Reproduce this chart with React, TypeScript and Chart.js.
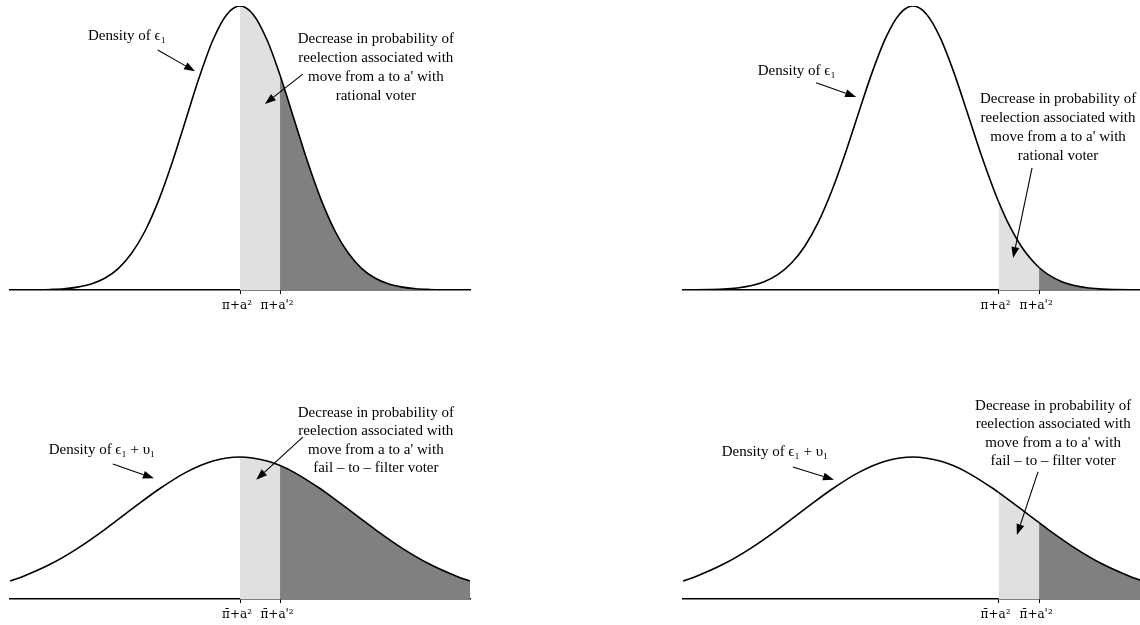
import React, { useEffect, useRef } from "react";
import { Chart, registerables } from "chart.js";

Chart.register(...registerables);

// ---- data ----
const TOP_LEFT_X = [
  -4.25, -4, -3.75, -3.5, -3.25, -3, -2.75, -2.5, -2.25, -2, -1.75, -1.5, -1.25, -1, -0.75, -0.5, -0.25,
  0, 0.25, 0.5, 0.74, 1, 1.25, 1.5, 1.75, 2, 2.25, 2.5, 2.75, 3, 3.25, 3.5, 3.75, 4, 4.25,
];
const TOP_LEFT_Y = [
  0.0, 0.0001, 0.0003, 0.0008, 0.0018, 0.0041, 0.0084, 0.0165, 0.0302, 0.052, 0.0838, 0.1269, 0.1802, 0.2402, 0.3002, 0.3521, 0.3874,
  0.4, 0.3874, 0.3521, 0.3025, 0.2402, 0.1802, 0.1269, 0.0838, 0.052, 0.0302, 0.0165, 0.0084, 0.0041, 0.0018, 0.0008, 0.0003, 0.0001, 0.0,
];
const TOP_RIGHT_X = [
  -4.25, -4, -3.75, -3.5, -3.25, -3, -2.75, -2.5, -2.25, -2, -1.75, -1.5, -1.25, -1, -0.75, -0.5, -0.25,
  0, 0.25, 0.5, 0.75, 1, 1.25, 1.5, 1.58, 1.75, 2, 2.25, 2.33, 2.5, 2.75, 3, 3.25, 3.5, 3.75, 4, 4.25,
];
const TOP_RIGHT_Y = [
  0.0001, 0.0002, 0.0006, 0.0013, 0.0029, 0.006, 0.0117, 0.0216, 0.0376, 0.0617, 0.0956, 0.1398, 0.1927, 0.2507, 0.3076, 0.3559, 0.3885,
  0.4, 0.3885, 0.3559, 0.3076, 0.2507, 0.1927, 0.1398, 0.1246, 0.0956, 0.0617, 0.0376, 0.0317, 0.0216, 0.0117, 0.006, 0.0029, 0.0013, 0.0006, 0.0002, 0.0001,
];
const BOTTOM_X = [
  -4.25, -4, -3.5, -3, -2.5, -2, -1.5, -1, -0.5, 0, 0.5, 0.74, 1, 1.5, 1.58, 2, 2.33, 2.5, 3, 3.5, 4, 4.25,
];
const BOTTOM_Y = [
  0.0253, 0.0321, 0.0492, 0.0714, 0.0978, 0.1266, 0.1546, 0.1784, 0.1944, 0.2, 0.1944, 0.1879, 0.1784, 0.1546, 0.1503, 0.1266, 0.1075, 0.0978, 0.0714, 0.0492, 0.0321, 0.0253,
];
const LEFT_THRESHOLDS = [0, 0.74];
const RIGHT_THRESHOLDS = [1.58, 2.33];
const TOP_TICK_LABELS = ["\u03C0+a\u00B2", "\u03C0+a'\u00B2"];
const BOTTOM_TICK_LABELS = ["\u03C0\u0304+a\u00B2", "\u03C0\u0304+a'\u00B2"];
const TOP_DENSITY_LABEL = "Density of \u03F5\u2081";
const BOTTOM_DENSITY_LABEL = "Density of \u03F5\u2081 + \u03C5\u2081";
const TOP_NOTE = [
  "Decrease in probability of",
  "reelection associated with",
  "move from a to a' with",
  "rational voter",
];
const BOTTOM_NOTE = [
  "Decrease in probability of",
  "reelection associated with",
  "move from a to a' with",
  "fail \u2013 to \u2013 filter voter",
];

// ---- styling / layout ----
const FONT = '"Liberation Serif", "DejaVu Serif", serif';
const TICK_FONT = '"DejaVu Serif", "Liberation Serif", serif';
const LIGHT = "#e0e0e0";
const DARK = "#808080";

type Pt = [number, number];
type PanelCfg = {
  left: number;
  top: number;
  xs: number[];
  ys: number[];
  thresholds: number[];
  tickLabels: string[];
  density: { text: string; x: number; y: number; arrow: [Pt, Pt] };
  note: { lines: string[]; x: number; y: number; lineH: number; arrow: [Pt, Pt] };
};

const PANELS: PanelCfg[] = [
  {
    left: 0,
    top: 0,
    xs: TOP_LEFT_X,
    ys: TOP_LEFT_Y,
    thresholds: LEFT_THRESHOLDS,
    tickLabels: TOP_TICK_LABELS,
    density: { text: TOP_DENSITY_LABEL, x: -2.09, y: 0.358, arrow: [[-1.52, 0.338], [-0.83, 0.308]] },
    note: { lines: TOP_NOTE, x: 2.51, y: 0.354, lineH: 19, arrow: [[1.16, 0.304], [0.46, 0.262]] },
  },
  {
    left: 673,
    top: 0,
    xs: TOP_RIGHT_X,
    ys: TOP_RIGHT_Y,
    thresholds: RIGHT_THRESHOLDS,
    tickLabels: TOP_TICK_LABELS,
    density: { text: TOP_DENSITY_LABEL, x: -2.15, y: 0.308, arrow: [[-1.79, 0.292], [-1.05, 0.272]] },
    note: { lines: TOP_NOTE, x: 2.68, y: 0.269, lineH: 19, arrow: [[2.2, 0.172], [1.85, 0.045]] },
  },
  {
    left: 0,
    top: 309,
    xs: BOTTOM_X,
    ys: BOTTOM_Y,
    thresholds: LEFT_THRESHOLDS,
    tickLabels: BOTTOM_TICK_LABELS,
    density: { text: BOTTOM_DENSITY_LABEL, x: -2.55, y: 0.21, arrow: [[-2.35, 0.19], [-1.59, 0.17]] },
    note: { lines: BOTTOM_NOTE, x: 2.51, y: 0.262, lineH: 18.3, arrow: [[1.16, 0.228], [0.3, 0.168]] },
  },
  {
    left: 673,
    top: 309,
    xs: BOTTOM_X,
    ys: BOTTOM_Y,
    thresholds: RIGHT_THRESHOLDS,
    tickLabels: BOTTOM_TICK_LABELS,
    density: { text: BOTTOM_DENSITY_LABEL, x: -2.55, y: 0.207, arrow: [[-2.22, 0.186], [-1.46, 0.168]] },
    note: { lines: BOTTOM_NOTE, x: 2.59, y: 0.272, lineH: 18.5, arrow: [[2.31, 0.179], [1.92, 0.09]] },
  },
];

const annotPlugin = {
  id: "annot",
  afterDraw(chart: any, _args: any, opts: any) {
    const cfg: PanelCfg = opts.cfg;
    if (!cfg) return;
    const { ctx } = chart;
    const xs = chart.scales.x;
    const ys = chart.scales.y;
    const px = (v: number) => xs.getPixelForValue(v);
    const py = (v: number) => ys.getPixelForValue(v);
    ctx.save();
    ctx.fillStyle = "#000";
    ctx.strokeStyle = "#000";
    ctx.font = `15px ${FONT}`;
    ctx.textAlign = "center";
    ctx.textBaseline = "middle";
    ctx.fillText(cfg.density.text, px(cfg.density.x), py(cfg.density.y));
    cfg.note.lines.forEach((line, i) => {
      ctx.fillText(line, px(cfg.note.x), py(cfg.note.y) + i * cfg.note.lineH);
    });
    const arrow = (a: [Pt, Pt]) => {
      const x0 = px(a[0][0]);
      const y0 = py(a[0][1]);
      const x1 = px(a[1][0]);
      const y1 = py(a[1][1]);
      const ang = Math.atan2(y1 - y0, x1 - x0);
      const L = 11;
      const W = 4;
      const bx = x1 - L * Math.cos(ang);
      const by = y1 - L * Math.sin(ang);
      ctx.lineWidth = 1.1;
      ctx.beginPath();
      ctx.moveTo(x0, y0);
      ctx.lineTo(bx, by);
      ctx.stroke();
      ctx.beginPath();
      ctx.moveTo(x1, y1);
      ctx.lineTo(bx + W * Math.sin(ang), by - W * Math.cos(ang));
      ctx.lineTo(bx - W * Math.sin(ang), by + W * Math.cos(ang));
      ctx.closePath();
      ctx.fill();
    };
    arrow(cfg.density.arrow);
    arrow(cfg.note.arrow);
    ctx.restore();
  },
};

function Panel({ cfg }: { cfg: PanelCfg }) {
  const ref = useRef<HTMLCanvasElement | null>(null);
  useEffect(() => {
    if (!ref.current) return;
    const [t1, t2] = cfg.thresholds;
    const points = cfg.xs.map((x, i) => ({ x, y: cfg.ys[i] }));
    const chart = new Chart(ref.current, {
      type: "line",
      data: {
        datasets: [
          {
            data: points,
            borderColor: "#000",
            borderWidth: 1.6,
            backgroundColor: "rgba(0,0,0,0)",
            pointRadius: 0,
            fill: "origin",
            cubicInterpolationMode: "monotone",
            segment: {
              backgroundColor: (c: any) => {
                const x = c.p0.parsed.x;
                if (x >= t2 - 1e-9) return DARK;
                if (x >= t1 - 1e-9) return LIGHT;
                return "rgba(0,0,0,0)";
              },
            },
          } as any,
        ],
      },
      options: {
        animation: false,
        responsive: false,
        devicePixelRatio: 1,
        layout: { padding: { left: 10, right: 10, top: 6, bottom: 0 } },
        plugins: {
          legend: { display: false },
          tooltip: { enabled: false },
          annot: { cfg },
        } as any,
        scales: {
          x: {
            type: "linear",
            min: -4.25,
            max: 4.25,
            z: 1,
            afterBuildTicks: (scale: any) => {
              scale.ticks = cfg.thresholds.map((v) => ({ value: v }));
            },
            afterFit: (scale: any) => {
              scale.height = 24;
            },
            ticks: {
              autoSkip: false,
              maxRotation: 0,
              padding: 5,
              labelOffset: -3,
              color: "#000",
              font: { family: TICK_FONT, size: 12 },
              callback: (_v: any, i: number) => cfg.tickLabels[i] ?? "",
            },
            grid: {
              display: true,
              drawOnChartArea: false,
              drawTicks: true,
              tickLength: 4,
              color: "#000",
              lineWidth: 1,
            },
            border: { display: true, color: "#000", width: 1.5 },
          },
          y: {
            type: "linear",
            display: false,
            min: 0,
            max: 0.4,
          },
        },
      },
      plugins: [annotPlugin],
    } as any);
    return () => chart.destroy();
  }, [cfg]);
  return (
    <canvas
      ref={ref}
      width={480}
      height={314}
      style={{ position: "absolute", left: cfg.left, top: cfg.top, width: 480, height: 314 }}
    />
  );
}

export default function App() {
  return (
    <div
      style={{
        position: "fixed",
        left: 0,
        top: 0,
        width: 1140,
        height: 625,
        overflow: "hidden",
        background: "#fff",
      }}
    >
      {PANELS.map((p, i) => (
        <Panel key={i} cfg={p} />
      ))}
    </div>
  );
}
